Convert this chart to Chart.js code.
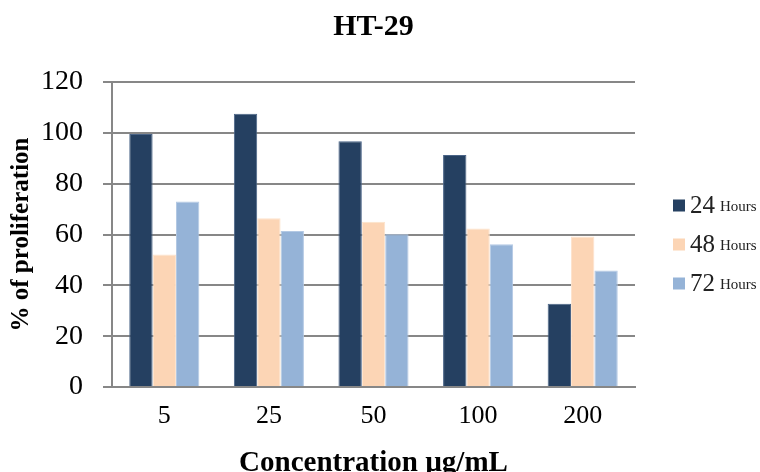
<!DOCTYPE html>
<html>
<head>
    <title>HT-29 proliferation</title>
    <script src="https://cdn.jsdelivr.net/npm/chart.js"></script>
    <style>
        body { margin: 0; background: #fff; }
        #wrap { width: 760px; height: 472px; position: relative; }
    </style>
</head>
<body>
    <div id="wrap">
        <canvas id="htChart"></canvas>
    </div>

    <script>
        // values
        const concentrations = ['5', '25', '50', '100', '200'];
        const hours24 = [99.5, 107.5, 96.7, 91.3, 32.8];
        const hours48 = [52.1, 66.4, 65.0, 62.4, 59.2];
        const hours72 = [73.0, 61.4, 60.1, 56.2, 45.8];
        const seriesNames = ['24', '48', '72'];
        const yMax = 120;
        const yStep = 20;

        const serif = '"Liberation Serif", "Times New Roman", serif';
        const gridGray = '#878787';

        // title + legend with mixed font sizes ("24" big, "Hours" small)
        const decorPlugin = {
            id: 'decor',
            afterDraw(chart) {
                const ctx = chart.ctx;
                const area = chart.chartArea;
                ctx.save();
                ctx.fillStyle = '#000';
                ctx.font = 'bold 30px ' + serif;
                ctx.textAlign = 'center';
                ctx.textBaseline = 'middle';
                ctx.fillText('HT-29', (area.left + area.right) / 2, 27);

                ctx.textAlign = 'left';
                chart.data.datasets.forEach((ds, i) => {
                    const y = 205.5 + i * 39;
                    ctx.fillStyle = ds.backgroundColor;
                    ctx.fillRect(673, y - 6, 12, 12);
                    ctx.fillStyle = '#222';
                    ctx.font = '25px ' + serif;
                    ctx.fillText(ds.label, 690, y + 1);
                    const w = ctx.measureText(ds.label).width;
                    ctx.font = '15px ' + serif;
                    ctx.fillText('Hours', 690 + w + 5, y + 2);
                });
                ctx.restore();
            }
        };

        const ctx = document.getElementById('htChart').getContext('2d');
        const htChart = new Chart(ctx, {
            type: 'bar',
            data: {
                labels: concentrations,
                datasets: [
                    { label: seriesNames[0], data: hours24, backgroundColor: '#254061', borderColor: '#4a6487', borderWidth: 1 },
                    { label: seriesNames[1], data: hours48, backgroundColor: '#FCD5B5', borderColor: '#fde3cc', borderWidth: 1 },
                    { label: seriesNames[2], data: hours72, backgroundColor: '#95B3D7', borderColor: '#b3c9e4', borderWidth: 1 }
                ]
            },
            options: {
                responsive: true,
                maintainAspectRatio: false,
                animation: false,
                layout: { padding: { top: 82, right: 125, left: 0, bottom: 0 } },
                datasets: { bar: { categoryPercentage: 0.67, barPercentage: 1.0 } },
                plugins: {
                    legend: { display: false },
                    tooltip: { enabled: false }
                },
                scales: {
                    x: {
                        grid: { display: false, drawTicks: false },
                        border: { display: true, color: gridGray, width: 2 },
                        ticks: { color: '#000', font: { family: serif, size: 26 }, padding: 14 },
                        title: {
                            display: true,
                            text: 'Concentration µg/mL',
                            color: '#000',
                            font: { family: serif, size: 29, weight: 'bold' },
                            padding: { top: 0, bottom: -9 }
                        },
                        afterFit(scale) { scale.height = 85; }
                    },
                    y: {
                        min: 0,
                        max: yMax,
                        ticks: { stepSize: yStep, color: '#000', font: { family: serif, size: 28 }, padding: 20 },
                        grid: { color: gridGray, lineWidth: 2, tickLength: 9 },
                        border: { display: true, color: gridGray, width: 2 },
                        title: {
                            display: true,
                            text: '% of proliferation',
                            color: '#000',
                            font: { family: serif, size: 25, weight: 'bold' },
                            padding: { top: 7, bottom: 0 }
                        },
                        afterFit(scale) { scale.width = 112; }
                    }
                }
            },
            plugins: [decorPlugin]
        });
    </script>
</body>
</html>
